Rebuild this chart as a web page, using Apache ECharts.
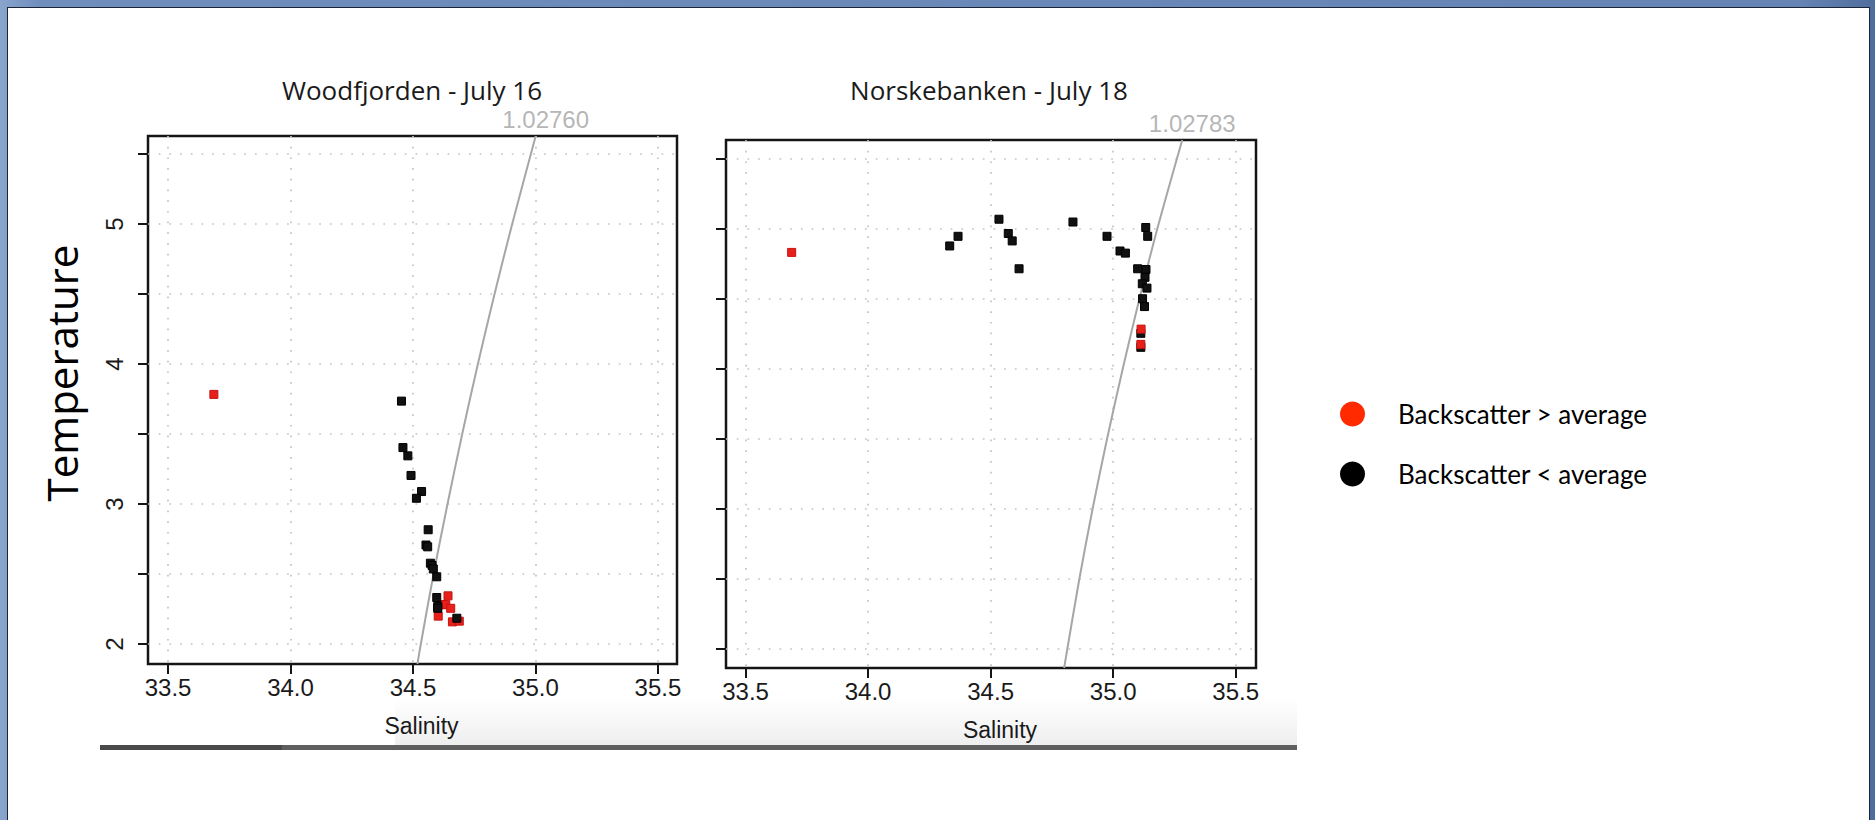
<!DOCTYPE html>
<html>
<head>
<meta charset="utf-8">
<script src="https://cdn.jsdelivr.net/npm/echarts@6/dist/echarts.min.js"></script>
<style>
  html, body { margin: 0; padding: 0; width: 1875px; height: 820px; overflow: hidden;
    background: linear-gradient(90deg, #8aa5cd 0px, #6f8ebd 40px, #6584b5 1800px, #4f6d9c 1875px); }
  #sheet { position: absolute; left: 7px; top: 7px; width: 1863px; height: 820px;
    background: #ffffff; border: 1px solid #1c2535; box-sizing: border-box; }
  #chart { position: absolute; left: 0; top: 0; width: 1875px; height: 820px; }
</style>
</head>
<body>
<div id="sheet"></div>
<div id="chart"></div>
<script>
// ---- Labels and ticks ----
const panelTitles = ['Woodfjorden - July 16', 'Norskebanken - July 18'];
const groupNames = ['Backscatter > average', 'Backscatter < average'];
const salinityTicks = [33.5, 34.0, 34.5, 35.0, 35.5];
const temperatureTicks = [2, 2.5, 3, 3.5, 4, 4.5, 5, 5.5];
const temperatureLabels = [2, 3, 4, 5];
const densityLabels = ['1.02760', '1.02783'];

// ---- Woodfjorden - July 16 ----
const woodHighSal  = [33.687, 34.643, 34.624, 34.634, 34.654, 34.603, 34.661, 34.689];
const woodHighTemp = [3.783, 2.344, 2.281, 2.281, 2.255, 2.199, 2.158, 2.163];
const woodLowSal   = [34.453, 34.459, 34.479, 34.492, 34.535, 34.514, 34.562, 34.553, 34.560,
                      34.571, 34.578, 34.583, 34.597, 34.597, 34.601, 34.601, 34.679];
const woodLowTemp  = [3.735, 3.403, 3.344, 3.204, 3.089, 3.041, 2.816, 2.707, 2.694,
                      2.577, 2.561, 2.536, 2.480, 2.332, 2.268, 2.255, 2.184];
// isopycnal 1.02760
const woodIsoSal   = [34.518, 34.532, 34.584, 34.641, 34.701, 34.765, 34.833, 34.905, 35.001];
const woodIsoTemp  = [1.857, 2.0, 2.5, 3.0, 3.5, 4.0, 4.5, 5.0, 5.629];

// ---- Norskebanken - July 18 ----
const norHighSal   = [33.688, 35.114, 35.113];
const norHighTemp  = [4.833, 4.285, 4.176];
const norLowSal    = [34.333, 34.367, 34.534, 34.572, 34.588, 34.616, 34.836, 34.975, 35.028,
                      35.050, 35.100, 35.133, 35.141, 35.134, 35.130, 35.119, 35.138, 35.120,
                      35.128, 35.113, 35.113];
const norLowTemp   = [4.879, 4.948, 5.070, 4.968, 4.915, 4.716, 5.050, 4.948, 4.843,
                      4.828, 4.716, 5.011, 4.948, 4.711, 4.655, 4.609, 4.578, 4.502,
                      4.446, 4.255, 4.155];
// isopycnal 1.02783
const norIsoSal    = [34.800, 34.813, 34.862, 34.916, 34.975, 35.039, 35.107, 35.180, 35.282];
const norIsoTemp   = [1.864, 2.0, 2.5, 3.0, 3.5, 4.0, 4.5, 5.0, 5.636];

// axis extents of the two framed panels
const salRange  = [[33.418, 35.578], [33.420, 35.583]];
const tempRange = [[1.857, 5.629], [1.864, 5.636]];

const zip = (xs, ys) => xs.map((x, i) => [x, ys[i]]);

const RED = '#e8201c';
const BLACK = '#111111';
const INK = '#151515';
const tickFont = 'Liberation Sans, Arial, sans-serif';

function xAxisFor(i) {
  return {
    type: 'value', gridIndex: i, min: salRange[i][0], max: salRange[i][1],
    axisLine: { show: false },
    axisTick: { show: true, length: 10, customValues: salinityTicks,
      lineStyle: { color: INK, width: 2 } },
    axisLabel: { show: true, customValues: salinityTicks, margin: 11,
      formatter: v => Number(v).toFixed(1),
      fontFamily: tickFont, fontSize: 24, color: '#1a1a1a' },
    splitLine: { show: true, lineStyle: { color: '#c3c3c3', width: 1.7, type: [1.7, 9] } },
    name: 'Salinity', nameLocation: 'middle', nameGap: 50,
    nameTextStyle: { fontFamily: tickFont, fontSize: 23, color: '#1a1a1a',
      padding: [0, 0, 0, 18] }
  };
}

function yAxisFor(i) {
  return {
    type: 'value', gridIndex: i, min: tempRange[i][0], max: tempRange[i][1],
    axisLine: { show: false },
    axisTick: { show: true, length: 10, customValues: temperatureTicks,
      lineStyle: { color: INK, width: 2 } },
    axisLabel: { show: i === 0, customValues: temperatureLabels, rotate: 90, margin: 22,
      formatter: v => String(v),
      fontFamily: tickFont, fontSize: 24, color: '#1a1a1a' },
    splitLine: { show: true, lineStyle: { color: '#c3c3c3', width: 1.7, type: [1.7, 9] } }
  };
}

function pointSeries(name, i, xs, ys, color, z) {
  return {
    name, type: 'scatter', xAxisIndex: i, yAxisIndex: i,
    symbol: 'rect', symbolSize: 8, z,
    itemStyle: { color, borderColor: color === RED ? '#c41410' : '#000', borderWidth: 1, opacity: 1 },
    data: zip(xs, ys)
  };
}

function isoSeries(i, xs, ys) {
  return {
    name: 'isopycnal ' + densityLabels[i], type: 'line', xAxisIndex: i, yAxisIndex: i,
    smooth: 0.3, showSymbol: false, symbol: 'none', z: 1, silent: true,
    lineStyle: { color: '#a6a6a6', width: 2 },
    data: zip(xs, ys)
  };
}

// density value written at the top end of each isopycnal
function isoLabelSeries(i, xs, ys) {
  const last = xs.length - 1;
  return {
    name: 'isopycnal label ' + densityLabels[i], type: 'scatter', xAxisIndex: i, yAxisIndex: i,
    symbol: 'circle', symbolSize: 1, silent: true, z: 2,
    itemStyle: { color: 'rgba(0,0,0,0)' },
    label: { show: true, position: 'top', distance: 4, offset: [10, 0],
      formatter: densityLabels[i], color: '#a2a2a2', fontFamily: tickFont, fontSize: 24 },
    data: [[xs[last], ys[last]]]
  };
}

const chart = echarts.init(document.getElementById('chart'), null, { renderer: 'svg' });

chart.setOption({
  animation: false,
  backgroundColor: 'transparent',
  grid: [
    { left: 148, top: 136, width: 529, height: 528, show: true,
      borderColor: INK, borderWidth: 2.5, backgroundColor: 'transparent' },
    { left: 726, top: 140, width: 530, height: 528, show: true,
      borderColor: INK, borderWidth: 2.5, backgroundColor: 'transparent' }
  ],
  xAxis: [xAxisFor(0), xAxisFor(1)],
  yAxis: [yAxisFor(0), yAxisFor(1)],
  legend: {
    orient: 'vertical', left: 1335, top: 396,
    itemWidth: 25, itemHeight: 25, itemGap: 34, icon: 'circle',
    selectedMode: false,
    textStyle: { fontFamily: 'Lato, "Open Sans", sans-serif', fontSize: 26, color: '#000',
      padding: [0, 0, 0, 28] },
    data: [
      { name: groupNames[0], itemStyle: { color: '#ff2a00', borderWidth: 0 } },
      { name: groupNames[1], itemStyle: { color: '#000000', borderWidth: 0 } }
    ]
  },
  series: [
    isoSeries(0, woodIsoSal, woodIsoTemp),
    isoLabelSeries(0, woodIsoSal, woodIsoTemp),
    pointSeries(groupNames[0], 0, woodHighSal, woodHighTemp, RED, 3),
    pointSeries(groupNames[1], 0, woodLowSal, woodLowTemp, BLACK, 4),
    isoSeries(1, norIsoSal, norIsoTemp),
    isoLabelSeries(1, norIsoSal, norIsoTemp),
    pointSeries(groupNames[1], 1, norLowSal, norLowTemp, BLACK, 3),
    pointSeries(groupNames[0], 1, norHighSal, norHighTemp, RED, 4)
  ],
  graphic: [
    { type: 'rect', z: -10, silent: true,
      shape: { x: 395, y: 698, width: 902, height: 48 },
      style: { fill: new echarts.graphic.LinearGradient(0, 0, 0, 1, [
        { offset: 0, color: 'rgba(238,238,238,0)' }, { offset: 1, color: '#eeeeee' }]) } },
    { type: 'rect', z: -5, silent: true,
      shape: { x: 100, y: 745, width: 1197, height: 5 }, style: { fill: '#5f5f5f' } },
    { type: 'rect', z: -4, silent: true,
      shape: { x: 100, y: 745, width: 182, height: 5 }, style: { fill: '#4a4a4a' } },
    { type: 'text', x: 412, y: 90, silent: true,
      style: { text: panelTitles[0], align: 'center', verticalAlign: 'middle',
        textAlign: 'center', textVerticalAlign: 'middle',
        font: '26px "Open Sans", "Noto Sans", sans-serif', fill: '#1a1a1a' } },
    { type: 'text', x: 989, y: 90, silent: true,
      style: { text: panelTitles[1], align: 'center', verticalAlign: 'middle',
        textAlign: 'center', textVerticalAlign: 'middle',
        font: '26px "Open Sans", "Noto Sans", sans-serif', fill: '#1a1a1a' } },
    { type: 'text', x: 61, y: 373, rotation: Math.PI / 2, silent: true,
      style: { text: 'Temperature', align: 'center', verticalAlign: 'middle',
        textAlign: 'center', textVerticalAlign: 'middle',
        font: '42px "Open Sans", "Noto Sans", sans-serif', fill: '#000' } }
  ]
});
</script>
</body>
</html>
